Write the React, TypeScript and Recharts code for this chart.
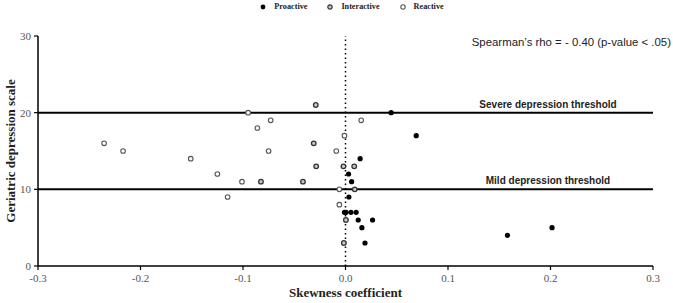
import React from "react";
import {
  ScatterChart,
  Scatter,
  XAxis,
  YAxis,
  ReferenceLine,
  Legend,
} from "recharts";

const xTicks = [-0.3, -0.2, -0.1, 0, 0.1, 0.2, 0.3];
const yTicks = [0, 10, 20, 30];

const proactiveX = [0.0445, 0.069, 0.0143, 0.003, 0.006, 0.0033, -0.001, 0.0005, 0.0053, 0.0104, 0.0124, 0.0264, 0.016, 0.019, 0.2015, 0.158];
const proactiveY = [20, 17, 14, 12, 11, 9, 7, 7, 7, 7, 6, 6, 5, 3, 5, 4];

const interactiveX = [-0.029, -0.031, -0.0286, -0.0825, -0.0415, -0.002, 0.0085, 0.009, 0.0004, -0.0016];
const interactiveY = [21, 16, 13, 11, 11, 13, 13, 10, 6, 3];

const reactiveX = [-0.2355, -0.217, -0.151, -0.125, -0.115, -0.095, -0.086, -0.073, -0.075, -0.101, -0.009, -0.006, -0.001, 0.0153, -0.006];
const reactiveY = [16, 15, 14, 12, 9, 20, 18, 19, 15, 11, 15, 8, 17, 19, 10];

const thresholds = [
  { y: 20, label: "Severe depression threshold" },
  { y: 10, label: "Mild depression threshold" },
];

const legendItems = ["Proactive", "Interactive", "Reactive"];

const toPts = (xs: number[], ys: number[]) => xs.map((x, i) => ({ x, y: ys[i] }));
const proactive = toPts(proactiveX, proactiveY);
const interactive = toPts(interactiveX, interactiveY);
const reactive = toPts(reactiveX, reactiveY);

const ProShape = (p: any) => <circle cx={p.cx} cy={p.cy} r={2.6} fill="#000" />;
const IntShape = (p: any) => (
  <circle cx={p.cx} cy={p.cy} r={2.3} fill="#c8c8c8" stroke="#333" strokeWidth={1.3} />
);
const ReaShape = (p: any) => (
  <circle cx={p.cx} cy={p.cy} r={2.3} fill="#fff" stroke="#555" strokeWidth={1.1} />
);

const serif = "'Liberation Serif', 'Times New Roman', serif";
const sans = "'Liberation Sans', Arial, sans-serif";

const LegendMarker = ({ i }: { i: number }) => (
  <svg width={8} height={8} style={{ marginRight: 7 }}>
    {i === 0 && <circle cx={4} cy={4} r={2.4} fill="#000" />}
    {i === 1 && <circle cx={4} cy={4} r={2.2} fill="#c8c8c8" stroke="#333" strokeWidth={1.2} />}
    {i === 2 && <circle cx={4} cy={4} r={2.2} fill="#fff" stroke="#555" strokeWidth={1.1} />}
  </svg>
);

const LegendContent = () => (
  <div
    style={{
      display: "flex",
      justifyContent: "center",
      alignItems: "center",
      fontFamily: serif,
      fontWeight: "bold",
      fontSize: 8.2,
      color: "#222",
      paddingLeft: 30,
    }}
  >
    {legendItems.map((t, i) => (
      <span key={t} style={{ display: "flex", alignItems: "center", marginRight: i < 2 ? 19 : 0 }}>
        <LegendMarker i={i} />
        {t}
      </span>
    ))}
  </div>
);

const XTick = (p: any) => (
  <text
    x={p.x}
    y={p.y + 10}
    textAnchor="middle"
    fontFamily={serif}
    fontSize={11}
    fill="#555"
  >
    {Number(p.payload.value).toFixed(1)}
  </text>
);

const YTick = (p: any) => (
  <text
    x={p.x - 1}
    y={p.y + 4}
    textAnchor="end"
    fontFamily={serif}
    fontSize={11}
    fill="#555"
  >
    {p.payload.value}
  </text>
);

export default function App() {
  return (
    <div style={{ position: "absolute", left: 0, top: 0, width: 673, height: 303, background: "#fff" }}>
      <ScatterChart
        width={673}
        height={303}
        margin={{ top: 27, right: 20, bottom: 7, left: 0 }}
      >
        <Legend
          verticalAlign="top"
          align="center"
          content={<LegendContent />}
          wrapperStyle={{ top: 2, left: 0, width: 673 }}
        />
        <XAxis
          type="number"
          dataKey="x"
          domain={[-0.3, 0.3]}
          ticks={xTicks}
          height={30}
          tickSize={4}
          axisLine={{ stroke: "#000", strokeWidth: 1.5 }}
          tickLine={{ stroke: "#000", strokeWidth: 1.2 }}
          tick={XTick}
          label={{
            value: "Skewness coefficient",
            position: "insideBottom",
            offset: -1,
            style: { fill: "#222", fontSize: 13, fontWeight: "bold", fontFamily: serif },
          }}
          allowDataOverflow
        />
        <YAxis
          type="number"
          dataKey="y"
          domain={[0, 30]}
          ticks={yTicks}
          width={38}
          tickSize={4}
          axisLine={{ stroke: "#000", strokeWidth: 1.5 }}
          tickLine={{ stroke: "#000", strokeWidth: 1.2 }}
          tick={YTick}
          label={{
            value: "Geriatric depression scale",
            angle: -90,
            position: "insideLeft",
            offset: 10,
            style: { fill: "#222", fontSize: 13, fontWeight: "bold", fontFamily: serif, textAnchor: "middle" },
          }}
        />
        <ReferenceLine x={0} stroke="#000" strokeWidth={1.5} strokeDasharray="1.5 3" />
        {thresholds.map((t) => (
          <ReferenceLine
            key={t.y}
            y={t.y}
            stroke="#000"
            strokeWidth={2}
            label={(props: any) => {
              const vb = props.viewBox;
              return (
                <text
                  x={vb.x + vb.width - 105}
                  y={vb.y - 5}
                  textAnchor="middle"
                  fontFamily={sans}
                  fontWeight="bold"
                  fontSize={10}
                  fill="#222"
                >
                  {t.label}
                </text>
              );
            }}
          />
        ))}
        <ReferenceLine
          y={30}
          stroke="none"
          label={(props: any) => {
            const vb = props.viewBox;
            return (
              <text
                x={671}
                y={vb.y + 10}
                textAnchor="end"
                fontFamily={sans}
                fontSize={11.4}
                fill="#222"
              >
                Spearman’s rho = - 0.40 (p-value &lt; .05)
              </text>
            );
          }}
        />
        <Scatter name="Reactive" data={reactive} shape={ReaShape} isAnimationActive={false} />
        <Scatter name="Interactive" data={interactive} shape={IntShape} isAnimationActive={false} />
        <Scatter name="Proactive" data={proactive} shape={ProShape} isAnimationActive={false} />
      </ScatterChart>
    </div>
  );
}
